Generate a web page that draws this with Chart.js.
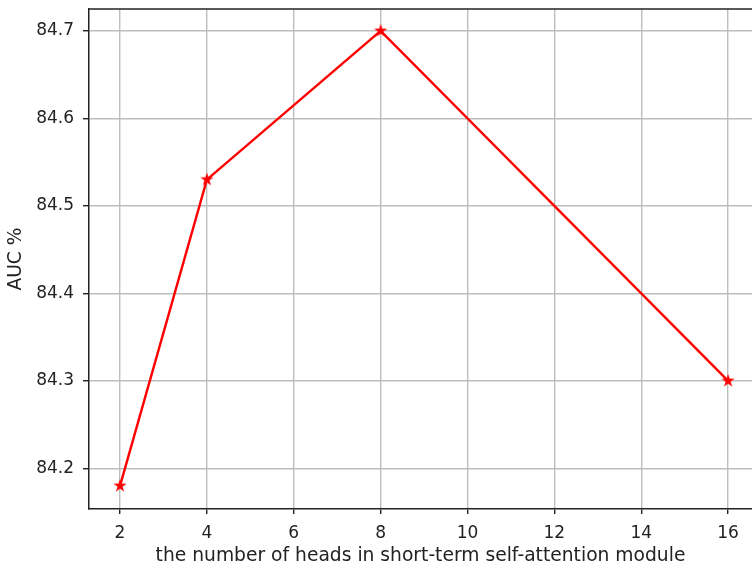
<!DOCTYPE html>
<html>
<head>
<meta charset="utf-8">
<script src="https://cdn.jsdelivr.net/npm/chart.js@4/dist/chart.umd.min.js"></script>
<style>
html,body{margin:0;padding:0;background:#fff;}
#wrap{width:752px;height:567px;position:relative;}
</style>
</head>
<body>
<div id="wrap"><canvas id="c" width="752" height="567"></canvas></div>
<script>
const heads = [2, 4, 8, 16];
const auc = [84.18, 84.53, 84.7, 84.3];
const xTicks = [2, 4, 6, 8, 10, 12, 14, 16];
const yTicks = [84.2, 84.3, 84.4, 84.5, 84.6, 84.7];

function starImage(r, color) {
  const s = Math.ceil(r * 2 + 2);
  const cv = document.createElement('canvas');
  cv.width = s; cv.height = s;
  const g = cv.getContext('2d');
  g.fillStyle = color;
  g.beginPath();
  const cx = s / 2, cy = s / 2, ri = r * 0.382;
  for (let i = 0; i < 10; i++) {
    const rr = i % 2 === 0 ? r : ri;
    const a = -Math.PI / 2 + i * Math.PI / 5;
    const px = cx + rr * Math.cos(a), py = cy + rr * Math.sin(a);
    if (i === 0) g.moveTo(px, py); else g.lineTo(px, py);
  }
  g.closePath();
  g.fill();
  return cv;
}

const topSpine = {
  id: 'topSpine',
  afterDraw(chart) {
    const a = chart.chartArea, c = chart.ctx;
    c.save();
    c.strokeStyle = '#222';
    c.lineWidth = 1.5;
    c.beginPath();
    c.moveTo(a.left - 0.75, a.top);
    c.lineTo(a.right, a.top);
    c.stroke();
    c.restore();
  }
};

const tickFont = {family: 'DejaVu Sans', size: 17};
const titleFont = {family: 'DejaVu Sans', size: 18.7};

new Chart(document.getElementById('c'), {
  type: 'scatter',
  data: {
    datasets: [{
      data: heads.map((h, i) => ({x: h, y: auc[i]})),
      showLine: true,
      borderColor: '#ff0000',
      backgroundColor: '#ff0000',
      borderWidth: 2.4,
      pointStyle: starImage(7, '#ff0000'),
      pointRadius: 7,
      pointHoverRadius: 7,
      tension: 0
    }]
  },
  options: {
    responsive: false,
    animation: false,
    events: [],
    layout: {autoPadding: false, padding: {top: 9, right: 0, left: 0, bottom: 0}},
    plugins: {legend: {display: false}, tooltip: {enabled: false}},
    scales: {
      x: {
        type: 'linear',
        min: 1.286,
        max: 16.55,
        afterBuildTicks: s => { s.ticks = xTicks.map(v => ({value: v})); },
        afterFit: s => { s.height = 58; s.paddingLeft = 0; s.paddingRight = 0; },
        grid: {color: '#bdbdbd', lineWidth: 1.4, tickColor: '#222', tickLength: 5, drawTicks: true},
        border: {color: '#222', width: 1.5},
        ticks: {font: tickFont, color: '#222', padding: 9, maxRotation: 0, autoSkip: false},
        title: {display: true, text: 'the number of heads in short-term self-attention module', font: titleFont, color: '#222', padding: {top: 0, bottom: 0}}
      },
      y: {
        type: 'linear',
        min: 84.1535,
        max: 84.725,
        afterBuildTicks: s => { s.ticks = yTicks.map(v => ({value: v})); },
        afterFit: s => { s.width = 89; s.paddingTop = 0; s.paddingBottom = 0; },
        grid: {color: '#bdbdbd', lineWidth: 1.4, tickColor: '#222', tickLength: 6, drawTicks: true},
        border: {color: '#222', width: 1.5},
        ticks: {font: tickFont, color: '#222', padding: 9, callback: v => v.toFixed(1)},
        title: {display: true, text: 'AUC %', font: titleFont, color: '#222', padding: {top: 5, bottom: 0}}
      }
    }
  },
  plugins: [topSpine]
});
</script>
</body>
</html>
